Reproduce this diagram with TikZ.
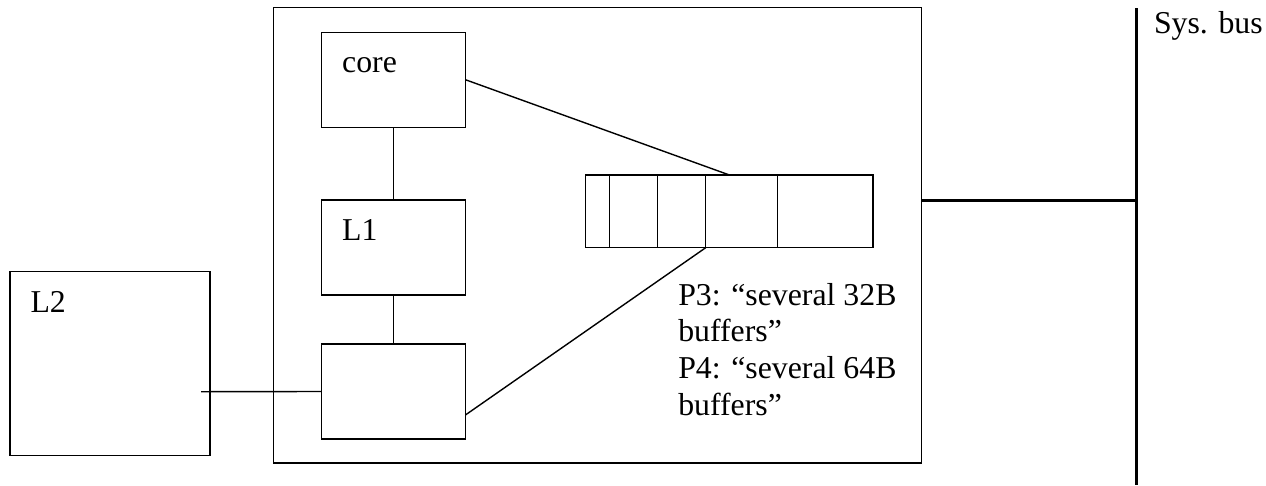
\documentclass[tikz,border=0pt]{standalone}
\usepackage{fontspec}
\setmainfont{Liberation Serif}
\usetikzlibrary{calc,positioning}
\tikzset{
  unit/.style={draw, line width=0.028cm, inner sep=0pt, outer sep=0pt, anchor=north west},
  wire/.style={line width=0.028cm},
  bus/.style={line width=0.06cm},
  tag/.style={anchor=base west, inner sep=0pt, outer sep=0pt, font=\fontsize{18.1}{20.8}\selectfont}
}
\begin{document}
\begin{tikzpicture}[x=0.02cm, y=-0.02cm]
  \useasboundingbox (0,0) rectangle (1266,485);

  % Drawing chip outline
  \node [unit, minimum width=12.96cm, minimum height=9.11cm] (chip) at (273.5,7.5) {};%

  % Drawing box core
  \node [unit, minimum width=2.88cm, minimum height=1.90cm] (core) at (321.7,32.3) {};%
  \node [tag] (coretxt) at ($(core.north west)+(20.5,40.5)$) {core};%

  % Drawing box L1
  \node [unit, minimum width=2.88cm, minimum height=1.90cm] (l1) at (321.7,200) {};%
  \node [tag] (l1txt) at ($(l1.north west)+(20.5,40.5)$) {L1};%

  % Drawing fill box below L1
  \node [unit, minimum width=2.88cm, minimum height=1.90cm] (fill) at (321.7,344) {};%

  % Drawing box L2
  \node [unit, minimum width=4.00cm, minimum height=3.68cm] (l2) at (10,271.7) {};%
  \node [tag] (l2txt) at ($(l2.north west)+(20.5,40.8)$) {L2};%
  \coordinate (l2port) at (201,391.7);%

  % Drawing buffer row
  \node [unit, minimum width=5.75cm, minimum height=1.454cm] (buf) at (585.7,175) {};%
  \foreach \dx/\name in {24/bufa, 72/bufb, 120/bufc, 192/bufd}
    \draw [wire] ($(buf.north west)+(\dx,0)$) -- ($(buf.south west)+(\dx,0)$) coordinate (\name);%

  % Drawing links
  \draw [wire] (core.south) -- (l1.north);%
  \draw [wire] (l1.south) -- (fill.north);%
  \draw [wire] (l2port) -- (fill.west);%
  \draw [wire] (core.east) -- (buf.north);%
  \draw [wire] ($(fill.east)+(0,23.3)$) -- (bufc);%

  % Drawing system bus
  \coordinate (bustop) at (1136.7,8);%
  \coordinate (busbot) at (1136.7,485);%
  \coordinate (busjoin) at (1136.7,200);%
  \draw [bus] (bustop) -- (busbot);%
  \draw [bus] (chip.east |- busjoin) -- (busjoin);%
  \node [tag] (bustxt) at (1154,33) {Sys. bus};%

  % Marking buffer sizes (base is the last line)
  \node [tag, align=left] (sizes) at (678.3,415) {P3: “several 32B\\buffers”\\P4: “several 64B\\buffers”};%
\end{tikzpicture}
\end{document}
